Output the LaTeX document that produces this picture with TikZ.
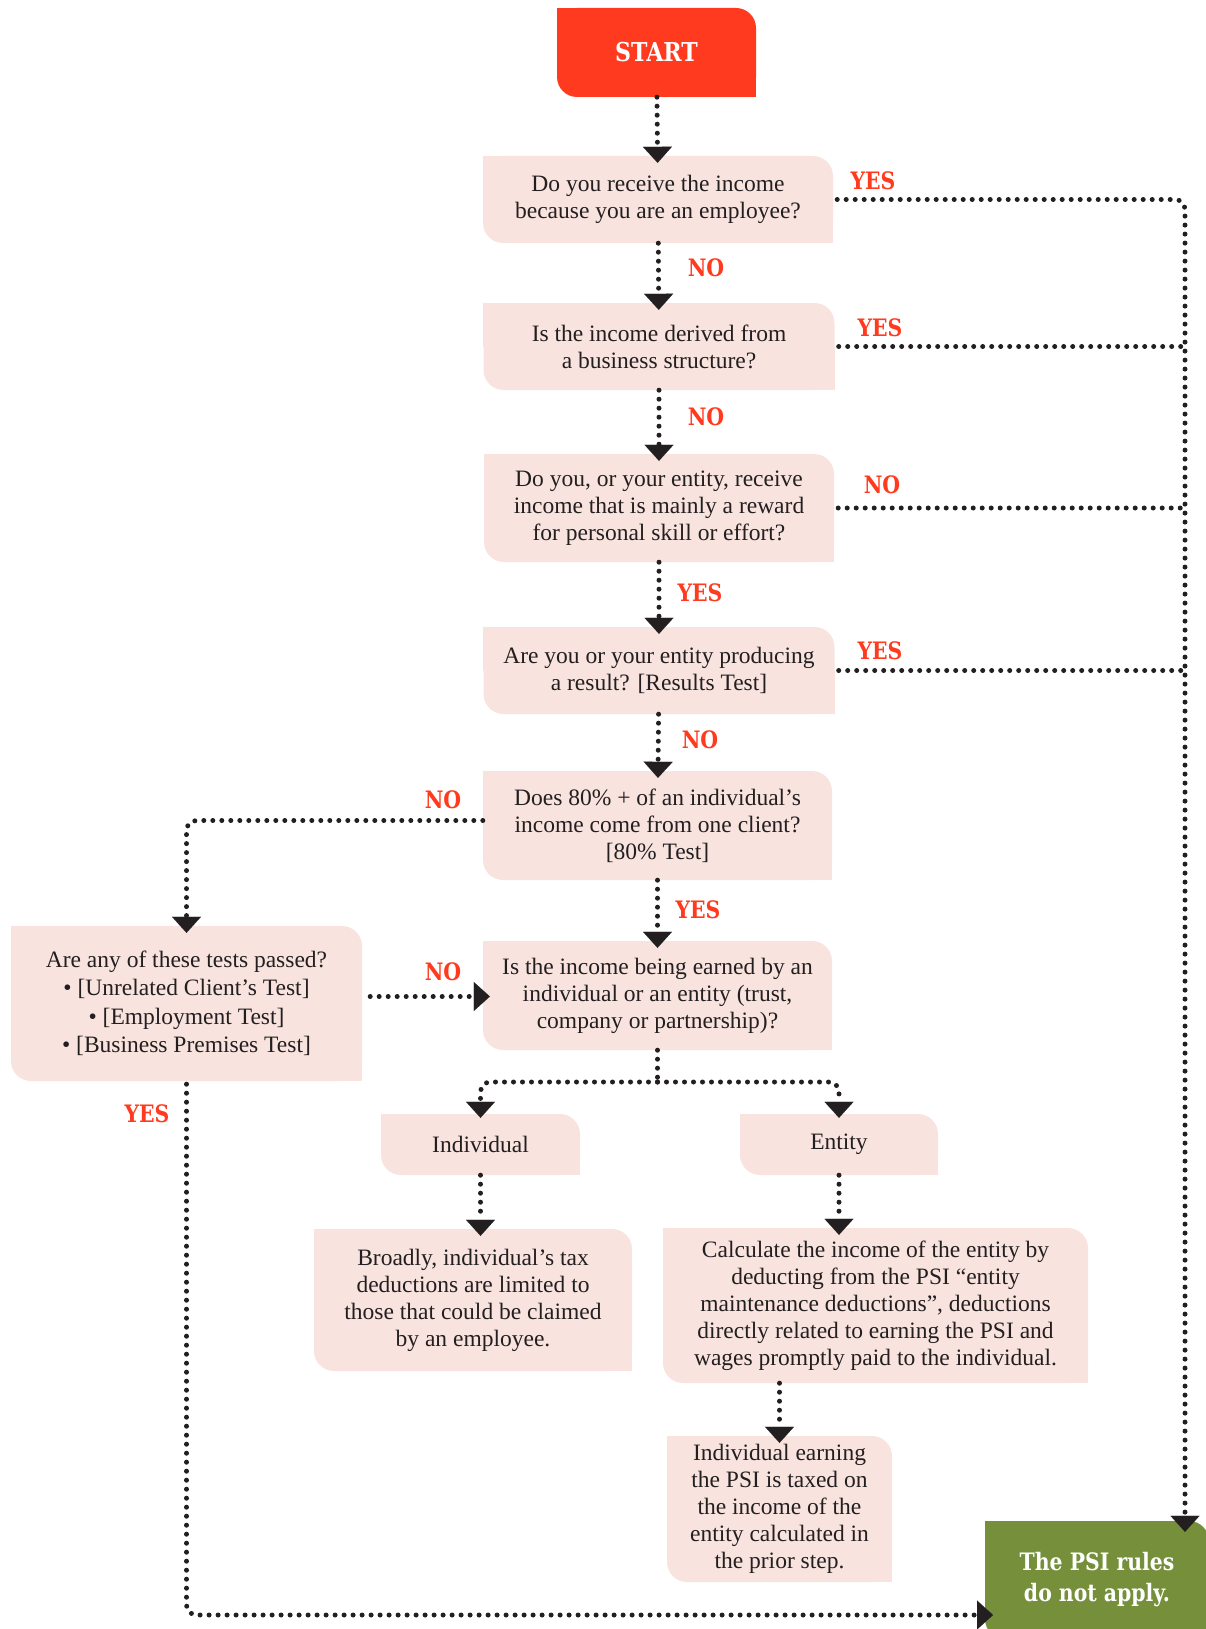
\documentclass[tikz,border=0pt]{standalone}
\usepackage{fontspec}
\setmainfont{Liberation Serif}
\newfontfamily\slab{DejaVu Serif}[FakeStretch=0.85]
\usepackage{tikz}
\usetikzlibrary{arrows.meta,backgrounds}
\usepackage{xcolor}

\definecolor{startred}{HTML}{FF3A1E}
\definecolor{boxpink}{HTML}{F8E3DE}
\definecolor{psigreen}{HTML}{758F3A}
\definecolor{ink}{HTML}{231F20}

\tikzset{
  box/.style={fill=boxpink, rounded corners=20pt, inner sep=0pt, align=center,
    text=ink, font=\fontsize{23.5}{27}\selectfont},
  endbox/.style={box, text=white, font=\slab\bfseries\fontsize{24}{31}\selectfont},
  lbl/.style={text=startred, inner sep=0pt, font=\slab\bfseries\fontsize{24}{26}\selectfont},
  flow/.style={draw=ink, line width=5pt, line cap=round,
    dash pattern=on 0pt off 9pt, rounded corners=10pt},
  arr/.style={flow, shorten >=-7pt,
    -{Triangle[width=29pt, length=16pt, line width=0.01pt]}}
}

\begin{document}
\begin{tikzpicture}[x=1pt, y=-1pt]
  \useasboundingbox (0,0) rectangle (1205,1629);

  % boxes
  \node[endbox, fill=startred, minimum width=199pt, minimum height=89pt,
    font=\slab\bfseries\fontsize{26}{30}\selectfont]
    (start) at (656.5,52.5) {START};
  \node[box, minimum width=350pt, minimum height=87pt] (q1) at (658,199.5)
    {Do you receive the income\\because you are an employee?};
  \node[box, minimum width=351pt, minimum height=87pt] (q2) at (659,346.5)
    {Is the income derived from\\a business structure?};
  \node[box, minimum width=350pt, minimum height=108pt] (q3) at (659,508)
    {Do you, or your entity, receive\\income that is mainly a reward\\for personal skill or effort?};
  \node[box, minimum width=351pt, minimum height=87pt] (q4) at (659,670.5)
    {Are you or your entity producing\\a result? [Results Test]};
  \node[box, minimum width=349pt, minimum height=109pt] (q5) at (657.5,825.5)
    {Does 80\% + of an individual’s\\income come from one client?\\{}[80\% Test]};
  \node[box, minimum width=349pt, minimum height=109pt] (q6) at (657.5,995.5)
    {Is the income being earned by an\\individual or an entity (trust,\\company or partnership)?};
  \node[box, minimum width=351pt, minimum height=155pt,
    font=\fontsize{23.5}{28.5}\selectfont] (tests) at (186.5,1003.5)
    {Are any of these tests passed?\\• [Unrelated Client’s Test]\\• [Employment Test]\\• [Business Premises Test]};
  \node[box, minimum width=199pt, minimum height=61pt] (ind) at (480.5,1144.5) {Individual};
  \node[box, minimum width=198pt, minimum height=61pt] (ent) at (839,1144.5) {Entity};
  \node[box, minimum width=318pt, minimum height=142pt] (broad) at (473,1300)
    {Broadly, individual’s tax\\deductions are limited to\\those that could be claimed\\by an employee.};
  \node[box, minimum width=425pt, minimum height=155pt] (calc) at (875.5,1305.5)
    {Calculate the income of the entity by\\deducting from the PSI “entity\\maintenance deductions”, deductions\\directly related to earning the PSI and\\wages promptly paid to the individual.};
  \node[box, minimum width=225pt, minimum height=146pt] (earn) at (779.5,1509)
    {Individual earning\\the PSI is taxed on\\the income of the\\entity calculated in\\the prior step.};
  \node[endbox, fill=psigreen, minimum width=224pt, minimum height=118pt]
    (green) at (1097,1580) {The PSI rules\\do not apply.};

  % square corners
  \begin{scope}[on background layer]
    \foreach \n/\c in {start/startred, q1/boxpink, q2/boxpink, q3/boxpink,
        q4/boxpink, q5/boxpink, q6/boxpink, tests/boxpink, ind/boxpink,
        ent/boxpink, broad/boxpink, calc/boxpink, earn/boxpink, green/psigreen} {
      \fill[\c] (\n.north west) rectangle (\n.center);
      \fill[\c] (\n.center) rectangle (\n.south east);
    }
  \end{scope}

  % labels
  \node[lbl] (yes1) at (873,181) {YES};
  \node[lbl] (no1) at (706,268) {NO};
  \node[lbl] (yes2) at (880,328) {YES};
  \node[lbl] (no2) at (706,417) {NO};
  \node[lbl] (no3) at (882,485) {NO};
  \node[lbl] (yes3) at (700,593) {YES};
  \node[lbl] (yes4) at (880,651) {YES};
  \node[lbl] (no4) at (700,740) {NO};
  \node[lbl] (no5) at (443,800) {NO};
  \node[lbl] (yes5) at (698,910) {YES};
  \node[lbl] (no6) at (443,972) {NO};
  \node[lbl] (yes6) at (147,1114) {YES};

  \coordinate (rail) at (1185,200);
  \coordinate (split) at (657.5,1082);
  \coordinate (gin) at (985,1615);

  % main column
  \draw[arr] (start) -- (q1);
  \draw[arr] (q1) -- (q2);
  \draw[arr] (q2) -- (q3);
  \draw[arr] (q3) -- (q4);
  \draw[arr] (q4) -- (q5);
  \draw[arr] (q5) -- (q6);

  % right rail
  \draw[arr, shorten <=4pt, shorten >=-11pt] (q1.east) -| (green.north -| rail);
  \foreach \q in {q2,q3,q4}
    \draw[flow, shorten <=4pt] (\q.east) -- (\q.east -| rail);

  % left side
  \draw[arr] ([yshift=5pt]q5.west) -| (tests.north);
  \draw[arr, shorten <=8pt] ([yshift=7pt]tests.east) -- ([yshift=7pt]tests.east -| q6.west);
  \draw[arr, shorten <=3pt, shorten >=-8pt] (tests.south) |- (gin);

  % split
  \draw[flow] (q6.south) -- (split);
  \draw[arr, shorten >=-4pt] (split) -| (ind.north);
  \draw[arr, shorten >=-4pt] (split) -| (ent.north);
  \draw[arr] (ind) -- (ind |- broad.north);
  \draw[arr] (ent) -- (ent |- calc.north);
  \draw[arr] (calc.south -| earn.north) -- (earn.north);
\end{tikzpicture}
\end{document}
